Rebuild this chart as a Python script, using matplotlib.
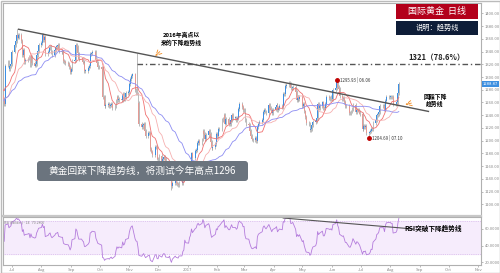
# Gold daily chart with trendlines and RSI panel

import numpy as np
import pandas as pd
import matplotlib
matplotlib.use("Agg")
import matplotlib.pyplot as plt
import matplotlib.dates as mdates
from matplotlib.patches import Rectangle, FancyBboxPatch
from matplotlib.transforms import IdentityTransform

plt.rcParams['font.family'] = ['Noto Sans CJK SC', 'DejaVu Sans']

# daily closes, one line per week, starting Wed 2016-06-01
start_date = "2016-06-01"
closes = [
    1214, 1210, 1243,
    1246, 1244, 1263, 1272, 1274,
    1285, 1285, 1290, 1278, 1298,
    1279, 1271, 1266, 1258, 1318,
    1323, 1312, 1317, 1321, 1340,
    1350, 1356, 1366, 1362, 1366,
    1356, 1334, 1342, 1324, 1327,
    1329, 1331, 1318, 1331, 1322,
    1318, 1320, 1334, 1341, 1350,
    1353, 1366, 1358, 1363, 1336,
    1340, 1345, 1348, 1339, 1335,
    1342, 1347, 1348, 1350, 1341,
    1339, 1339, 1325, 1323, 1322,
    1321, 1316, 1308, 1312, 1325,
    1327, 1350, 1347, 1337, 1328,
    1328, 1324, 1322, 1310, 1310,
    1314, 1317, 1336, 1337, 1340,
    1339, 1327, 1322, 1316, 1315,
    1312, 1269, 1268, 1254, 1256,
    1257, 1254, 1256, 1257, 1251,
    1254, 1262, 1268, 1264, 1266,
    1264, 1273, 1266, 1268, 1275,
    1277, 1289, 1297, 1302, 1304,
    1280, 1275, 1274, 1259, 1226,
    1222, 1225, 1227, 1216, 1208,
    1212, 1212, 1187, 1183, 1178,
    1190, 1190, 1172, 1170, 1176,
    1168, 1172, 1174, 1172, 1160,
    1158, 1160, 1143, 1129, 1134,
    1139, 1133, 1132, 1130, 1133,
    1133, 1139, 1141, 1157, 1151,
    1150, 1160, 1165, 1180, 1173,
    1184, 1186, 1196, 1200, 1197,
    1202, 1216, 1211, 1202, 1209,
    1215, 1210, 1198, 1188, 1190,
    1195, 1210, 1208, 1218, 1219,
    1232, 1235, 1241, 1227, 1234,
    1226, 1226, 1233, 1241, 1236,
    1236, 1233, 1236, 1250, 1257,
    1253, 1248, 1249, 1233, 1226,
    1225, 1216, 1208, 1202, 1201,
    1204, 1199, 1221, 1227, 1229,
    1233, 1245, 1249, 1246, 1244,
    1256, 1252, 1248, 1244, 1249,
    1253, 1256, 1248, 1251, 1254,
    1253, 1274, 1273, 1286, 1287,
    1290, 1289, 1282, 1283, 1285,
    1276, 1264, 1268, 1265, 1268,
    1255, 1257, 1246, 1237, 1228,
    1226, 1217, 1219, 1225, 1229,
    1231, 1236, 1258, 1252, 1255,
    1260, 1251, 1251, 1257, 1268,
    1267, 1266, 1268, 1266, 1279,
    1282, 1293, 1285, 1281, 1270,
    1266, 1267, 1261, 1254, 1254,
    1244, 1243, 1246, 1250, 1256,
    1245, 1249, 1248, 1245, 1242,
    1219, 1223, 1222, 1223, 1212,
    1213, 1215, 1219, 1218, 1228,
    1233, 1241, 1242, 1245, 1254,
    1254, 1254, 1249, 1262, 1268,
    1269, 1269, 1268, 1268, 1257,
    1258, 1261, 1275, 1288.87,
]
extreme_highs = {"2016-07-06": 1375, "2016-11-09": 1337.4, "2017-06-06": 1295.93}
extreme_lows = {"2016-12-15": 1122, "2017-07-10": 1204.69}

trend_pts = [("2016-07-08", 1375), ("2017-09-10", 1246)]
fib_level = 1321
fib_start = "2016-11-09"
rsi_trend_pts = [("2017-04-11", 73.3), ("2017-08-25", 60.0)]
marks = [("2017-06-06", 1295.93, "1295.93 | 06.06"), ("2017-07-10", 1204.69, "1204.69 | 07.10")]

month_ticks = pd.date_range("2016-07-01", "2017-11-01", freq="MS")
month_labels = ["Jul", "Aug", "Sep", "Oct", "Nov", "Dec", "2017", "Feb", "Mar",
                "Apr", "May", "Jun", "Jul", "Aug", "Sep", "Oct", "Nov"]
price_ticks = np.arange(1100, 1401, 20)
rsi_ticks = [20, 40, 60]

# ---- derived series
dates = pd.bdate_range(start_date, periods=len(closes))
close = np.array(closes, float)
open_ = np.r_[close[0], close[:-1]]
wick = 3.0
high = np.maximum(open_, close) + wick
low = np.minimum(open_, close) - wick
for d, v in extreme_highs.items():
    high[dates.get_loc(pd.Timestamp(d))] = v
for d, v in extreme_lows.items():
    low[dates.get_loc(pd.Timestamp(d))] = v

s = pd.Series(close, index=dates)
ma10 = s.rolling(10, min_periods=1).mean()
ma20 = s.rolling(20, min_periods=1).mean()
ma40 = s.rolling(40, min_periods=1).mean()
delta = s.diff()
gain = delta.clip(lower=0).ewm(alpha=1/14, adjust=False).mean()
loss = (-delta.clip(upper=0)).ewm(alpha=1/14, adjust=False).mean()
rsi = 100 - 100 / (1 + gain / loss)

W, H = 500, 273
def fx(x): return x / W
def fy(y): return 1 - y / H

fig = plt.figure(figsize=(5, 2.73), dpi=100)
ax = fig.add_axes([fx(3), fy(216), fx(481) - fx(3), fy(3) - fy(216)])
ax2 = fig.add_axes([fx(3), fy(265), fx(481) - fx(3), fy(217) - fy(265)], sharex=ax)

xmin, xmax = pd.Timestamp("2016-06-21 18:00"), pd.Timestamp("2017-11-04")
vis = dates >= xmin

# candles
up = close >= open_
body_bot = np.minimum(open_, close)
body_h = np.maximum(np.abs(close - open_), 0.8)
ax.vlines(dates[vis], low[vis], high[vis], color="#a0a0a0", lw=0.5, zorder=2)
ax.bar(dates[vis & up], body_h[vis & up], bottom=body_bot[vis & up], width=0.9,
       color="#3b8fe4", lw=0, zorder=3)
ax.bar(dates[vis & ~up], body_h[vis & ~up], bottom=body_bot[vis & ~up], width=0.9,
       color="#e59a94", lw=0, zorder=3)

ax.plot(dates[vis], ma10[vis], color="#f07070", lw=0.6, zorder=4)
ax.plot(dates[vis], ma20[vis], color="#f6b0b0", lw=0.6, zorder=4)
ax.plot(dates[vis], ma40[vis], color="#8c8cf2", lw=0.6, zorder=4)

# trendline and fib level
tx = [pd.Timestamp(d) for d, _ in trend_pts]
ax.plot(tx, [v for _, v in trend_pts], color="#555555", lw=1.0, zorder=5)
ax.plot([pd.Timestamp(fib_start), xmax], [fib_level, fib_level], color="#555555",
        lw=1.0, ls=(0, (4, 2, 1, 2)), zorder=5)
ax.text(pd.Timestamp("2017-09-19"), fib_level + 9, "1321（78.6%）", fontsize=5.5,
        fontweight="bold", color="#222222", ha="center", va="center")

for d, v, lab in marks:
    ax.plot(pd.Timestamp(d), v, "o", color="#c00000", ms=2.5, zorder=6)
    ax.text(pd.Timestamp(d) + pd.Timedelta(days=3), v, lab, fontsize=3.2,
            color="#333333", va="center", ha="left")

ax.annotate("", xy=(pd.Timestamp("2016-11-26"), 1330), xytext=(pd.Timestamp("2016-12-05"), 1343),
            arrowprops=dict(arrowstyle="->", color="#f08a20", lw=0.6, ls="--"))
ax.text(pd.Timestamp("2016-12-25"), 1360, "2016年高点以\n来的下降趋势线", fontsize=4.2,
        fontweight="bold", ha="center", va="center", linespacing=1.2)
ax.annotate("", xy=(pd.Timestamp("2017-08-14"), 1256), xytext=(pd.Timestamp("2017-08-26"), 1260),
            arrowprops=dict(arrowstyle="->", color="#f08a20", lw=0.6, ls="--"))
ax.text(pd.Timestamp("2017-09-17"), 1263, "回踩下降\n趋势线", fontsize=4.2,
        fontweight="bold", ha="center", va="center", linespacing=1.2)

ax.set_xlim(xmin, xmax)
ax.set_ylim(1081.8, 1416.2)
ax.yaxis.tick_right()
ax.set_yticks(price_ticks)
ax.set_yticklabels([f"{v:.2f}" for v in price_ticks])
ax.tick_params(axis="y", labelsize=3, colors="#888888", length=1.5, width=0.4, pad=1.5)
ax.tick_params(axis="x", bottom=False, labelbottom=False)
ax.text(1.003, closes[-1], f"{closes[-1]:.2f}", transform=ax.get_yaxis_transform(),
        fontsize=3, color="white", va="center", ha="left",
        bbox=dict(boxstyle="square,pad=0.2", fc="#3d8fe0", ec="none"))

# RSI panel
ax2.axhspan(30, 70, color="#f6ecfc", zorder=0)
ax2.axhline(30, color="#c9a3e3", lw=0.5, ls=":")
ax2.axhline(70, color="#c9a3e3", lw=0.5, ls=":")
ax2.plot(dates[vis], rsi[vis], color="#b47cdc", lw=0.6)
rx = [pd.Timestamp(d) for d, _ in rsi_trend_pts]
ax2.plot(rx, [v for _, v in rsi_trend_pts], color="#555555", lw=0.8)
ax2.text(pd.Timestamp("2017-09-15"), 60.5, "RSI突破下降趋势线", fontsize=4.8,
         fontweight="bold", ha="center", va="center")
ax2.text(0.003, 0.93, "RSI (Wilder) - 14   70.2800", transform=ax2.transAxes,
         fontsize=2.5, color="#888888", va="top", ha="left")
ax2.set_ylim(16.4, 74.5)
ax2.yaxis.tick_right()
ax2.set_yticks(rsi_ticks)
ax2.set_yticklabels([f"{v:.4f}" for v in rsi_ticks])
ax2.set_xticks(month_ticks)
ax2.set_xticklabels(month_labels)
ax2.tick_params(axis="y", labelsize=3, colors="#888888", length=1.5, width=0.4, pad=1.5)
ax2.tick_params(axis="x", labelsize=3, colors="#888888", length=1.5, width=0.4, pad=0.8)

for a in (ax, ax2):
    for sp in a.spines.values():
        sp.set_color("#b0b0b0")
        sp.set_linewidth(0.8)
ax.spines["bottom"].set_linewidth(1.6)
ax.spines["bottom"].set_color("#c8c8c8")

# title boxes (pixel coordinates)
def box(x0, y0, x1, y1, color, rounded=False):
    if rounded:
        p = FancyBboxPatch((x0, H - y1), x1 - x0, y1 - y0, boxstyle="round,pad=0,rounding_size=3",
                           transform=IdentityTransform(), fc=color, ec="none", zorder=10)
    else:
        p = Rectangle((x0, H - y1), x1 - x0, y1 - y0, transform=IdentityTransform(),
                      fc=color, ec="none", zorder=10)
    fig.patches.append(p)

box(396, 4, 478, 19, "#b3001b")
box(396, 21, 478, 35, "#0e1d38")
fig.text(fx(437), fy(11.5), "国际黄金  日线", fontsize=6.5, color="white", ha="center", va="center", zorder=11)
fig.text(fx(437), fy(28), "说明：趋势线", fontsize=5.2, color="white", ha="center", va="center", zorder=11)

box(37, 161, 248, 181, "#6b747e", rounded=True)
fig.text(fx(142.5), fy(171), "黄金回踩下降趋势线，将测试今年高点1296", fontsize=7, color="white",
         ha="center", va="center", zorder=11)

fig.patches.append(Rectangle((0.5, 0.5), W - 1, H - 1, transform=IdentityTransform(),
                             fill=False, ec="#bbbbbb", lw=1))

fig.savefig("out.png", dpi=100)
